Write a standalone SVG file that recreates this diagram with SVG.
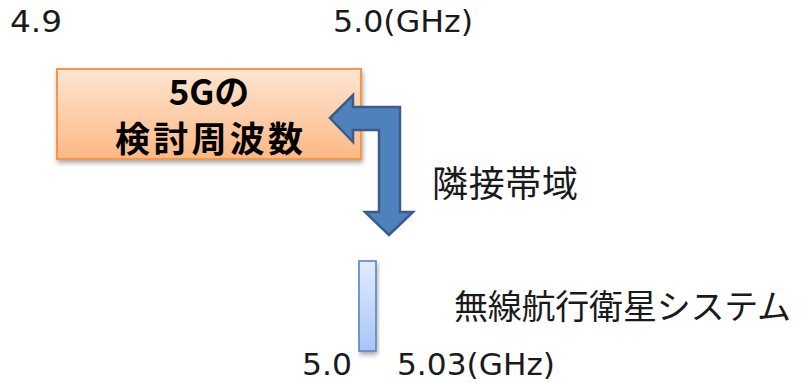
<svg xmlns="http://www.w3.org/2000/svg" width="802" height="383" viewBox="0 0 802 383">
<style>
.num{font-family:"DejaVu Sans","Liberation Sans",sans-serif;font-size:30px;fill:#1a1a1a}
.jp{font-family:"Noto Sans CJK JP","Noto Sans",sans-serif;fill:#1a1a1a}
.bold{font-family:"Noto Sans CJK JP","DejaVu Sans",sans-serif;font-weight:bold;font-size:35px;fill:#000}
</style>
<defs>
<linearGradient id="og" x1="0" y1="0" x2="0" y2="1">
<stop offset="0" stop-color="#fde6d2"/>
<stop offset="1" stop-color="#fbb884"/>
</linearGradient>
<linearGradient id="bg" x1="0" y1="0" x2="0" y2="1">
<stop offset="0" stop-color="#e3ebfc"/>
<stop offset="1" stop-color="#a9c5f6"/>
</linearGradient>
<filter id="sh" x="-10%" y="-10%" width="130%" height="140%">
<feGaussianBlur in="SourceAlpha" stdDeviation="2.5"/>
<feOffset dx="1" dy="3" result="b"/>
<feComponentTransfer><feFuncA type="linear" slope="0.35"/></feComponentTransfer>
<feMerge><feMergeNode/><feMergeNode in="SourceGraphic"/></feMerge>
</filter>
</defs>
<rect width="802" height="383" fill="#fff"/>
<text class="num" x="10" y="32" textLength="52" lengthAdjust="spacingAndGlyphs">4.9</text>
<text class="num" x="333" y="32" textLength="140" lengthAdjust="spacingAndGlyphs">5.0(GHz)</text>
<g id="node-5g">
<rect x="57" y="69" width="304" height="90" fill="url(#og)" stroke="#f79646" stroke-width="2" filter="url(#sh)"/>
<text class="bold" x="209" y="105" text-anchor="middle">5Gの</text>
<text class="bold" x="209" y="152" text-anchor="middle" textLength="188" lengthAdjust="spacing">検討周波数</text>
</g>
<g id="connectors">
<path d="M330,118 L353,95 L353,107 L400,107 L400,212 L413,212 L389,235 L365,212 L379,212 L379,130 L353,130 L353,142 Z" fill="#4f81bd" stroke="#385d8a" stroke-width="2.5" stroke-linejoin="miter"/>
</g>
<g id="label-adjacent">
<text class="jp" x="432" y="197" font-size="36" textLength="146" lengthAdjust="spacing">隣接帯域</text>
</g>
<g id="node-rns">
<rect x="359" y="261" width="17" height="90" fill="url(#bg)" stroke="#4f81bd" stroke-width="1.5" filter="url(#sh)"/>
</g>
<g id="label-rns">
<text class="jp" x="454" y="319" font-size="34" textLength="337" lengthAdjust="spacing">無線航行衛星システム</text>
</g>
<text class="num" x="302" y="375" textLength="50" lengthAdjust="spacingAndGlyphs">5.0</text>
<text class="num" x="397" y="375" textLength="158" lengthAdjust="spacingAndGlyphs">5.03(GHz)</text>
</svg>
